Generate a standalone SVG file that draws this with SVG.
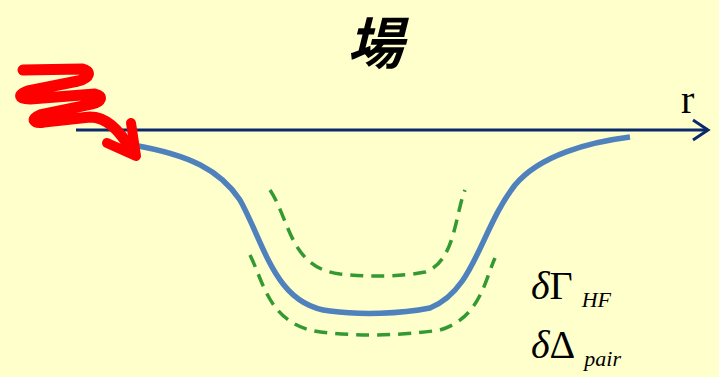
<svg xmlns="http://www.w3.org/2000/svg" width="719" height="377" viewBox="0 0 719 377">
<style>
.serif{font-family:"Liberation Serif","Times New Roman",serif;fill:#000}
.dash{fill:none;stroke:#339933;stroke-width:3.5;stroke-dasharray:13 8}
</style>
<rect width="719" height="377" fill="#FFFFCC"/>
<g id="title"><text x="375" y="64" font-size="56" font-style="italic" font-weight="bold" text-anchor="middle" font-family="'Noto Sans CJK JP',sans-serif" fill="#000">場</text></g>
<g id="axis">
<line x1="76" y1="130" x2="708" y2="130" stroke="#0B2A6B" stroke-width="3"/>
<polyline points="693,120 708,130 693,140" fill="none" stroke="#0B2A6B" stroke-width="3"/>
<text x="681" y="113" class="serif" font-size="40">r</text>
</g>
<g id="potential">
<path d="M133,145 C190,155 220,170 240,200 C265,245 275,305 330,311 C360,315 400,314 430,308 C475,290 480,230 515,185 C540,155 590,142 630,137" fill="none" stroke="#4F81BD" stroke-width="5.5"/>
</g>
<g id="deltaGamma">
<path class="dash" d="M270,190 C290,220 290,268 340,274 C370,277 400,277 425,272 C455,262 455,215 465,190"/>
</g>
<g id="deltaDelta">
<path class="dash" d="M250,255 C265,285 270,330 330,333 C360,336 400,336 440,330 C480,318 485,280 495,258"/>
</g>
<g id="wave">
<path d="M23,70 L82,69 C92,71 90,78 78,81 L28,91 C17,95 19,99 30,99 L95,94 C104,96 101,102 92,104 L40,115 C30,119 34,124 44,122 L90,117 C106,117 120,130 132,152" fill="none" stroke="#FF0000" stroke-width="11" stroke-linecap="round" stroke-linejoin="round"/>
<polyline points="107,143 136,156 131,123" fill="none" stroke="#FF0000" stroke-width="10" stroke-linecap="round" stroke-linejoin="round"/>
</g>
<g id="labels">
<text x="531" y="299" class="serif" font-size="40"><tspan font-style="italic">δ</tspan>Γ<tspan dx="9" dy="8" font-size="22" font-style="italic">HF</tspan></text>
<text x="531" y="358" class="serif" font-size="40"><tspan font-style="italic">δ</tspan>Δ<tspan dx="9" dy="8" font-size="22" font-style="italic">pair</tspan></text>
</g>
</svg>
